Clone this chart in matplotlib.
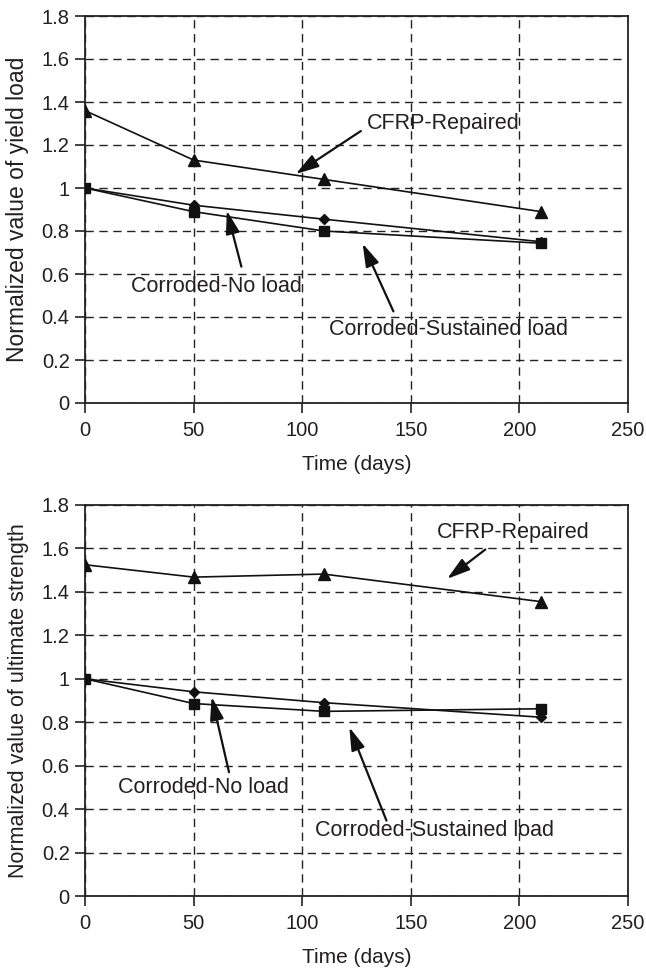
import matplotlib
matplotlib.use("Agg")
import matplotlib.pyplot as plt

plt.rcParams['font.family'] = ['Liberation Sans', 'DejaVu Sans']

# Ageing time (days)
days = [0, 50, 110, 210]

# Normalized yield load
yield_cfrp = [1.36, 1.13, 1.04, 0.89]
yield_noload = [1.00, 0.92, 0.855, 0.75]
yield_sustained = [1.00, 0.89, 0.80, 0.743]

# Normalized ultimate strength
ult_cfrp = [1.525, 1.468, 1.482, 1.355]
ult_noload = [1.00, 0.94, 0.89, 0.823]
ult_sustained = [1.00, 0.886, 0.85, 0.862]

x_ticks = [0, 50, 100, 150, 200, 250]
y_ticks = [0, 0.2, 0.4, 0.6, 0.8, 1, 1.2, 1.4, 1.6, 1.8]
y_tick_labels = ['0', '0.2', '0.4', '0.6', '0.8', '1', '1.2', '1.4', '1.6', '1.8']

TXT = '#231f20'
FS_TICK = 14.5
FS_XLABEL = 15
FS_NOTE = 15.5

fig = plt.figure(figsize=(6.46, 9.73), dpi=100)
ax_top = fig.add_axes([85 / 646, 1 - 403 / 973, 543 / 646, 387 / 973])
ax_bot = fig.add_axes([85 / 646, 1 - 896 / 973, 543 / 646, 391 / 973])


def style_axes(ax, ylabel, ylabel_size):
    ax.set_xlim(0, 250)
    ax.set_ylim(0, 1.8)
    ax.set_xticks(x_ticks)
    ax.set_yticks(y_ticks)
    ax.set_yticklabels(y_tick_labels)
    ax.grid(True, color='#222222', linestyle=(0, (6, 4)), linewidth=1.0)
    ax.set_axisbelow(True)
    for sp in ax.spines.values():
        sp.set_linewidth(1.3)
        sp.set_color('#222222')
    ax.tick_params(direction='out', length=7, width=1.2, color='#222222',
                   labelsize=FS_TICK, labelcolor=TXT)
    ax.tick_params(axis='x', pad=6)
    ax.tick_params(axis='y', pad=4)
    ax.set_xlabel('Time (days)', fontsize=FS_XLABEL, color=TXT, labelpad=11)
    ax.set_ylabel(ylabel, fontsize=ylabel_size, color=TXT, labelpad=9)


def draw_series(ax, cfrp, noload, sustained):
    ax.plot(days, noload, color='#111111', lw=1.2, marker='D', ms=5.5, zorder=3)
    ax.plot(days, sustained, color='#111111', lw=1.2, marker='s', ms=6.5, zorder=3)
    ax.plot(days, cfrp, color='#111111', lw=1.2, marker='^', ms=8.5, zorder=3)


def note(ax, text, txy, tail, head):
    ax.text(txy[0], txy[1], text, fontsize=FS_NOTE, color=TXT,
            ha='left', va='center', zorder=5)
    ax.annotate('', xy=head, xytext=tail,
                arrowprops=dict(arrowstyle='-|>,head_length=1.0,head_width=0.3',
                                color='#111111', lw=1.6, mutation_scale=14,
                                shrinkA=0, shrinkB=0), zorder=5)


style_axes(ax_top, 'Normalized value of yield load', 16.5)
draw_series(ax_top, yield_cfrp, yield_noload, yield_sustained)
note(ax_top, 'CFRP-Repaired', (130, 1.30), (127, 1.265), (97, 1.065))
note(ax_top, 'Corroded-No load', (21, 0.542), (72, 0.634), (65.3, 0.895))
note(ax_top, 'Corroded-Sustained load', (112.5, 0.342), (142, 0.426), (127.8, 0.742))

style_axes(ax_bot, 'Normalized value of ultimate strength', 15.5)
draw_series(ax_bot, ult_cfrp, ult_noload, ult_sustained)
note(ax_bot, 'CFRP-Repaired', (162, 1.674), (184.3, 1.595), (166.7, 1.46))
note(ax_bot, 'Corroded-No load', (15, 0.50), (66.3, 0.570), (58.3, 0.917))
note(ax_bot, 'Corroded-Sustained load', (105.8, 0.30), (138.8, 0.347), (121.7, 0.777))

fig.savefig('out.png', dpi=100)
